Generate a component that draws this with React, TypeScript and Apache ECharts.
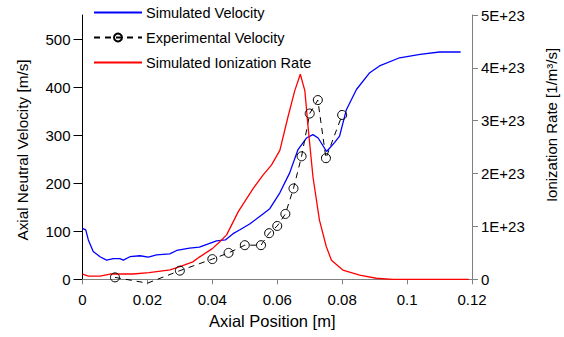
import React, { useEffect, useRef } from "react";
import * as echarts from "echarts";

// Simulated axial neutral velocity [m/s]
const simVelX = [0, 0.001, 0.0018, 0.0033, 0.0054, 0.0074, 0.0095, 0.0115, 0.0126, 0.0146, 0.0177, 0.0203, 0.0228, 0.0269, 0.029, 0.033, 0.036, 0.0413, 0.044, 0.0464, 0.0485, 0.0515, 0.0556, 0.0577, 0.0608, 0.0638, 0.0664, 0.069, 0.071, 0.0726, 0.0752, 0.0777, 0.0792, 0.0813, 0.0844, 0.0885, 0.0915, 0.0977, 0.104, 0.11, 0.1165];
const simVelY = [106, 103, 82, 58, 47, 40, 43, 43, 40, 47, 49, 46, 51, 53, 60, 65, 67, 80, 82, 95, 103, 115, 136, 147, 180, 221, 270, 294, 301, 294, 266, 285, 298, 353, 395, 430, 444, 461, 468, 473, 473];

// Experimental axial velocity [m/s]
const expVelX = [0.01, 0.02, 0.03, 0.04, 0.045, 0.05, 0.055, 0.0575, 0.06, 0.0625, 0.065, 0.0675, 0.07, 0.0725, 0.075, 0.08];
const expVelY = [4, -8, 18, 42, 55, 71, 71, 96, 111, 136, 189, 256, 345, 373, 252, 342];

// Simulated ionization rate [1/m^3/s]
const ionX = [0, 0.0018, 0.0054, 0.0085, 0.0155, 0.0205, 0.027, 0.03, 0.034, 0.036, 0.04, 0.0423, 0.0444, 0.048, 0.0526, 0.0556, 0.0582, 0.0608, 0.0633, 0.0654, 0.0671, 0.0685, 0.0695, 0.071, 0.073, 0.0751, 0.0767, 0.0802, 0.0854, 0.0905, 0.0956, 0.119];
const ionY = [0.1e23, 0.06e23, 0.06e23, 0.1e23, 0.1e23, 0.125e23, 0.18e23, 0.24e23, 0.33e23, 0.42e23, 0.58e23, 0.71e23, 0.84e23, 1.28e23, 1.72e23, 1.97e23, 2.16e23, 2.44e23, 3.07e23, 3.57e23, 3.88e23, 3.57e23, 2.88e23, 1.94e23, 1.12e23, 0.62e23, 0.36e23, 0.175e23, 0.08e23, 0.02e23, 0, 0];

const leftTicks = [0, 100, 200, 300, 400, 500];

const FONT = '"Liberation Sans", Arial, sans-serif';

export default function App() {
  const ref = useRef<HTMLDivElement>(null);
  useEffect(() => {
    if (!ref.current) return;
    const chart = echarts.init(ref.current, undefined, { renderer: "svg" });
    const expData = expVelX.map((x, i) =>
      expVelY[i] < 0 ? { value: [x, expVelY[i]], symbol: "none" } : [x, expVelY[i]]
    );
    chart.setOption({
      animation: false,
      backgroundColor: "#fff",
      textStyle: { fontFamily: FONT },
      grid: { left: 82.5, right: 92, top: 15, bottom: 57.7 },
      legend: {
        orient: "vertical",
        left: 93,
        top: 5,
        padding: 0,
        itemWidth: 48,
        itemHeight: 10,
        itemGap: 10,
        textStyle: { fontSize: 14.5, color: "#000", fontFamily: FONT, padding: [0, 0, 0, -1] },
        data: [
          { name: "Simulated Velocity", itemStyle: { opacity: 0 } },
          { name: "Experimental Velocity" },
          { name: "Simulated Ionization Rate", itemStyle: { opacity: 0 } },
        ],
      },
      xAxis: {
        type: "value",
        min: 0,
        max: 0.12,
        interval: 0.02,
        name: "Axial Position [m]",
        nameLocation: "middle",
        nameGap: 33,
        nameTextStyle: { fontSize: 16.5, color: "#000", fontFamily: FONT, padding: [0, 10, 0, 0] },
        axisLine: { show: true, lineStyle: { color: "#808080", width: 1 } },
        axisTick: { show: true, length: 5, lineStyle: { color: "#808080" } },
        axisLabel: { fontSize: 15, color: "#000", margin: 13, fontFamily: FONT },
        splitLine: { show: false },
      },
      yAxis: [
        {
          type: "value",
          min: 0,
          max: 550,
          interval: 100,
          position: "left",
          axisLine: { show: true, lineStyle: { color: "#000", width: 1 } },
          axisTick: { show: true, length: 9, customValues: leftTicks, lineStyle: { color: "#000" } },
          axisLabel: { fontSize: 15, color: "#000", margin: 12, showMaxLabel: false, fontFamily: FONT },
          splitLine: { show: false },
        },
        {
          type: "value",
          min: 0,
          max: 5e23,
          interval: 1e23,
          position: "right",
          axisLine: { show: true, lineStyle: { color: "#808080", width: 1 } },
          axisTick: { show: true, length: 6, lineStyle: { color: "#808080" } },
          axisLabel: {
            fontSize: 15,
            color: "#000",
            margin: 9,
            fontFamily: FONT,
            formatter: (v: number) => (v === 0 ? "0" : `${Math.round(v / 1e23)}E+23`),
          },
          splitLine: { show: false },
        },
      ],
      graphic: [
        {
          type: "text",
          x: 22,
          y: 150,
          rotation: Math.PI / 2,
          style: {
            text: "Axial Neutral Velocity [m/s]",
            fontSize: 15.3,
            fontFamily: FONT,
            fill: "#000",
            align: "center",
            verticalAlign: "middle",
          },
        },
        {
          type: "text",
          x: 551,
          y: 125,
          rotation: Math.PI / 2,
          style: {
            text: "Ionization Rate [1/m³/s]",
            fontSize: 15,
            fontFamily: FONT,
            fill: "#000",
            align: "center",
            verticalAlign: "middle",
          },
        },
      ],
      series: [
        {
          name: "Simulated Velocity",
          type: "line",
          yAxisIndex: 0,
          symbol: "none",
          lineStyle: { color: "#0000FF", width: 1.3 },
          itemStyle: { color: "#0000FF" },
          data: simVelX.map((x, i) => [x, simVelY[i]]),
        },
        {
          name: "Experimental Velocity",
          type: "line",
          yAxisIndex: 0,
          clip: false,
          symbol: "circle",
          symbolSize: 9,
          showSymbol: true,
          lineStyle: { color: "#000", width: 1, type: [6, 5] },
          itemStyle: { color: "transparent", borderColor: "#000", borderWidth: 1 },
          data: expData,
        },
        {
          name: "Simulated Ionization Rate",
          type: "line",
          yAxisIndex: 1,
          symbol: "none",
          lineStyle: { color: "#FF0000", width: 1.3 },
          itemStyle: { color: "#FF0000" },
          data: ionX.map((x, i) => [x, ionY[i]]),
        },
      ],
    });
    return () => chart.dispose();
  }, []);
  return (
    <div
      ref={ref}
      style={{ position: "fixed", left: 0, top: 0, width: 564, height: 337, background: "#fff" }}
    />
  );
}
